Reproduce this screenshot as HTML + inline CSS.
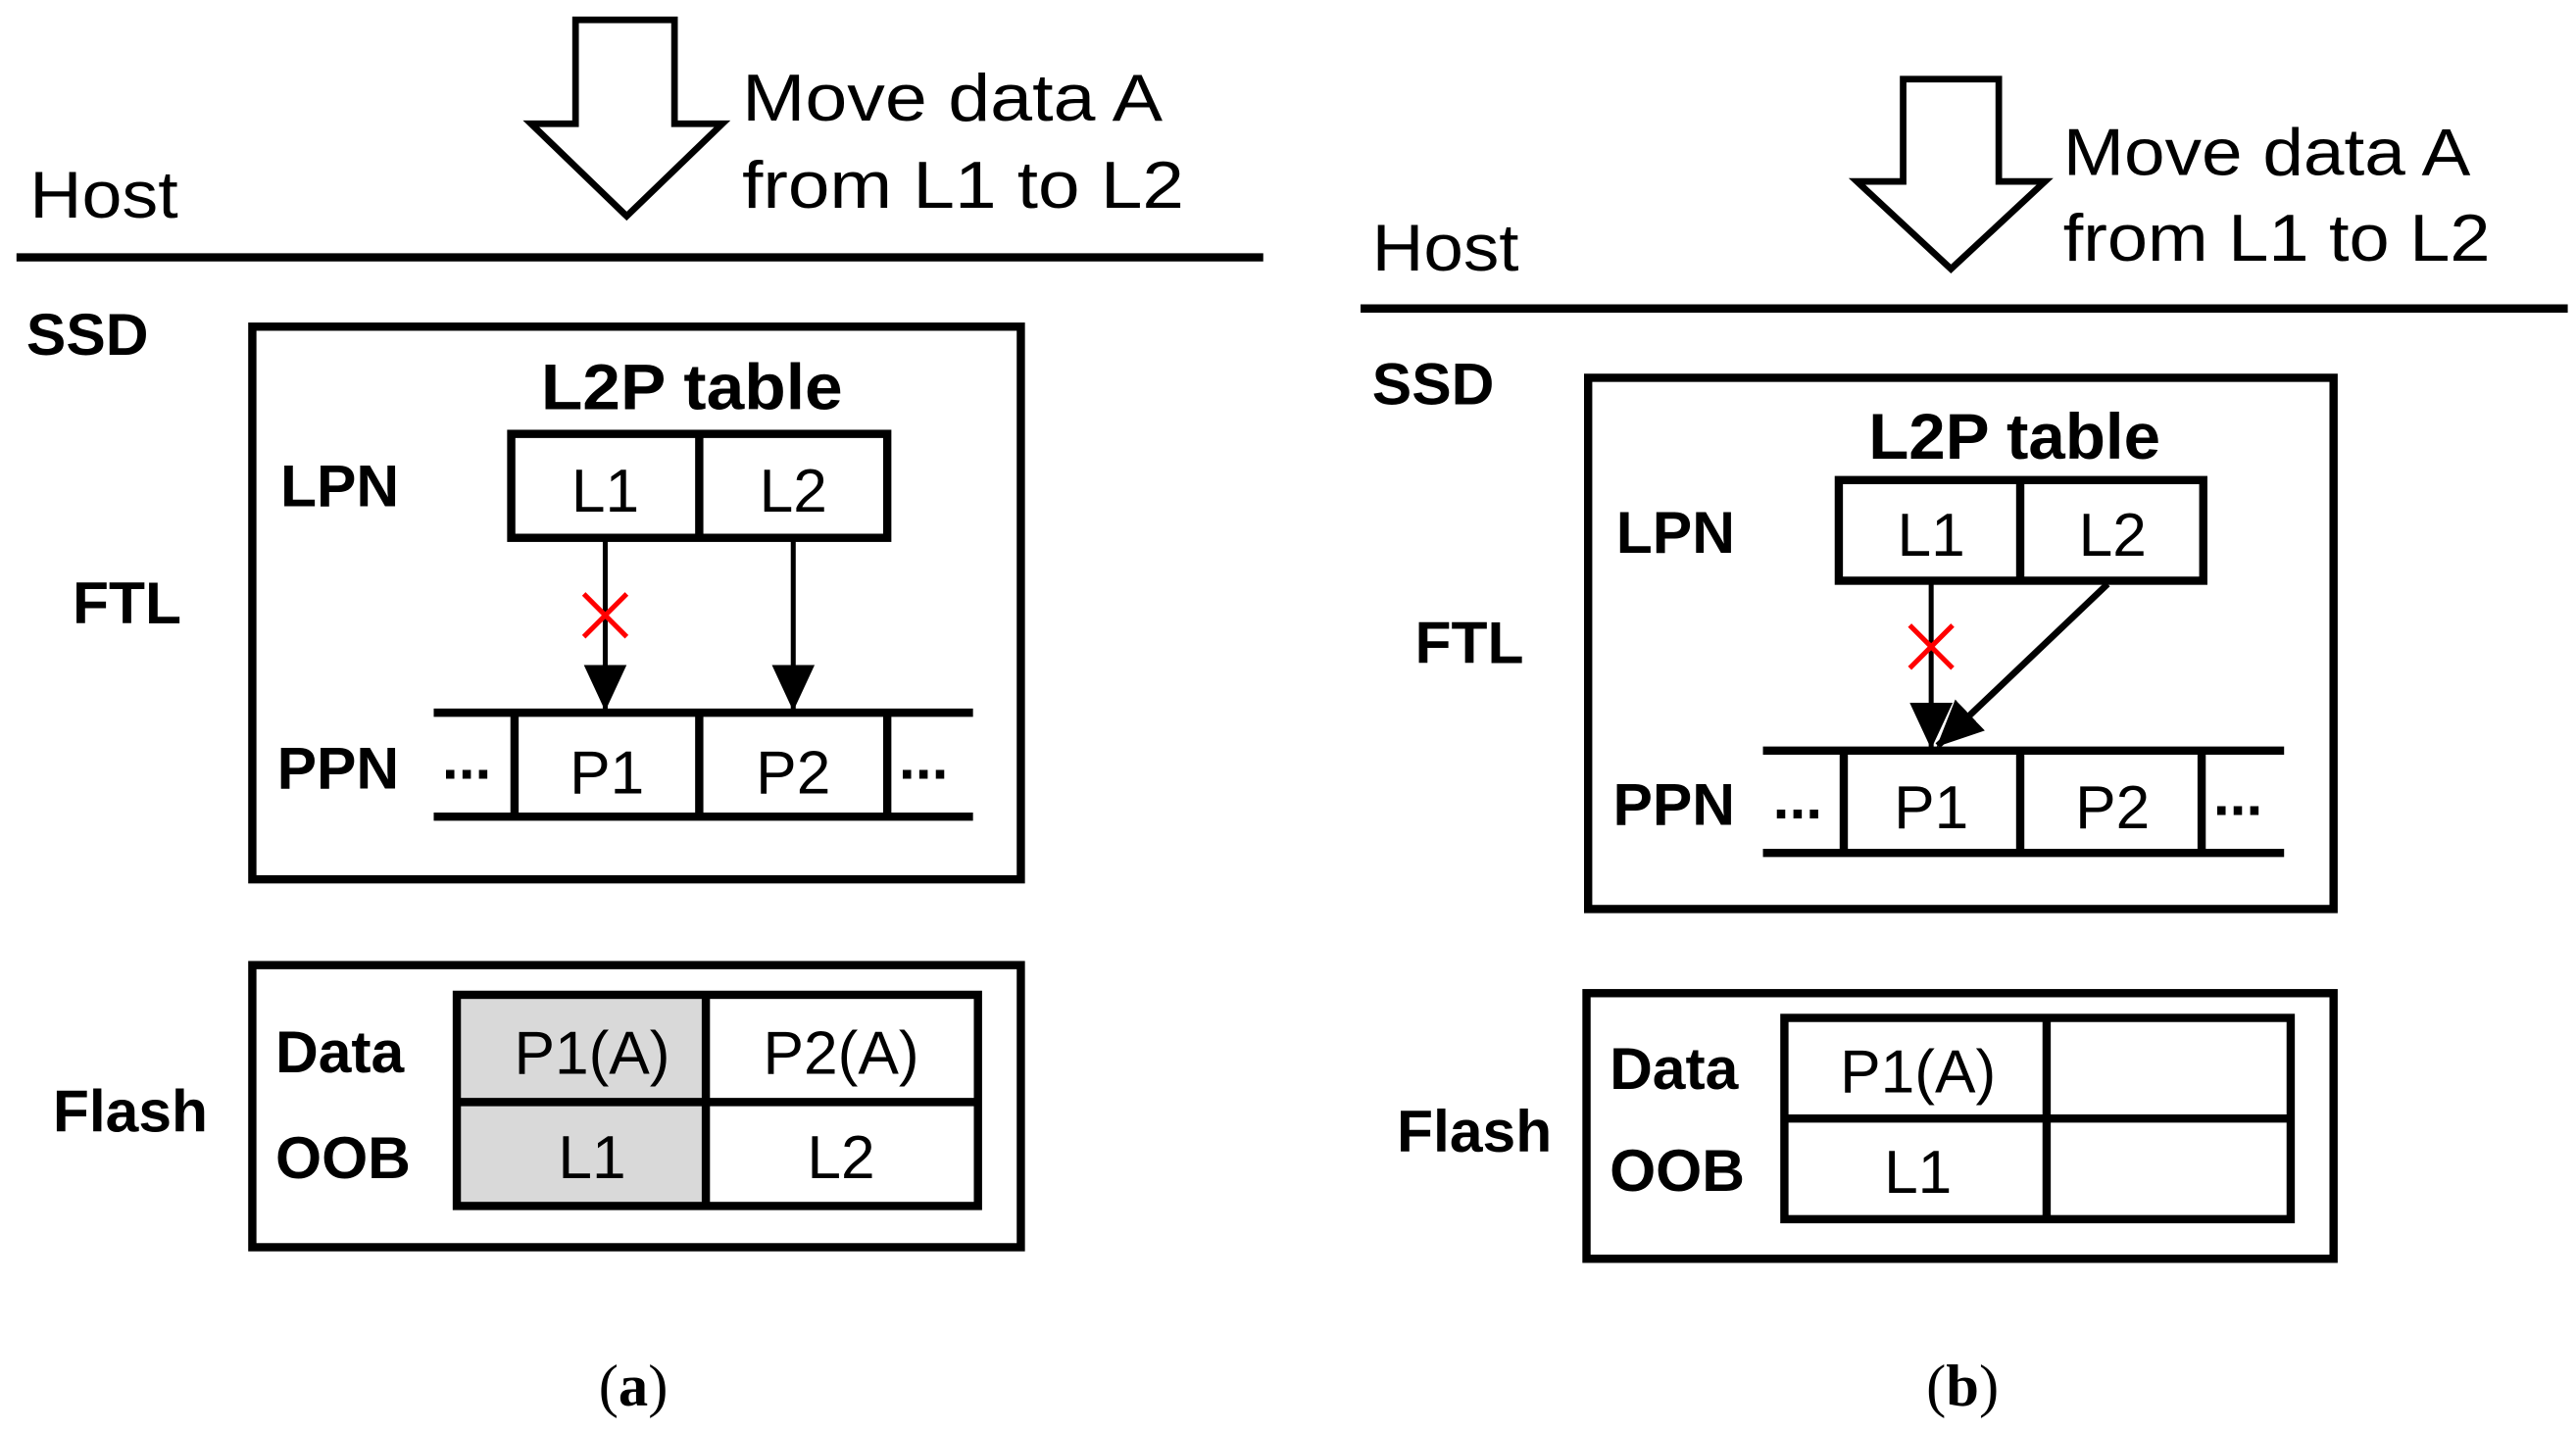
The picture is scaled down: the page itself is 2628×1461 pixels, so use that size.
<!DOCTYPE html>
<html><head><style>html,body{margin:0;padding:0;background:#fff}svg{display:block}</style></head><body>
<svg width="2628" height="1461" viewBox="0 0 1562 868" preserveAspectRatio="none" xmlns="http://www.w3.org/2000/svg" font-family="Liberation Sans, sans-serif">
<defs>
<marker id="ah2" markerWidth="28" markerHeight="26" refX="27" refY="13" orient="auto" markerUnits="userSpaceOnUse"><path d="M0,0 L28,13 L0,26 z" fill="#000"/></marker></defs>
<g stroke="#000" stroke-width="5" fill="none">
<path d="M349,12 L409,12 L409,75 L438,75 L380,131 L322,75 L349,75 Z" stroke-width="4"/>
<line x1="10" y1="156" x2="766" y2="156"/>
<rect x="153" y="198" width="466" height="335"/>
<rect x="310" y="263" width="228" height="63"/><line x1="424" y1="263" x2="424" y2="326"/>
<line x1="263" y1="432" x2="590" y2="432"/><line x1="263" y1="495" x2="590" y2="495"/>
<line x1="312" y1="432" x2="312" y2="495"/><line x1="424" y1="432" x2="424" y2="495"/><line x1="538" y1="432" x2="538" y2="495"/>
<line x1="367" y1="326" x2="367" y2="430" stroke-width="3" marker-end="url(#ah2)"/>
<line x1="481" y1="326" x2="481" y2="430" stroke-width="3" marker-end="url(#ah2)"/>
<rect x="153" y="585" width="466" height="171"/>
<rect x="277" y="603" width="151" height="128" fill="#d9d9d9" stroke="none"/>
<rect x="277" y="603" width="316" height="128"/><line x1="428" y1="603" x2="428" y2="731"/><line x1="277" y1="668" x2="593" y2="668"/>
<path d="M1154,48 L1212,48 L1212,110 L1240,110 L1183,163 L1126,110 L1154,110 Z" stroke-width="4"/>
<line x1="825" y1="187" x2="1557" y2="187"/>
<rect x="963" y="229" width="452" height="322"/>
<rect x="1115" y="291" width="221" height="61"/><line x1="1225" y1="291" x2="1225" y2="352"/>
<line x1="1069" y1="455" x2="1385" y2="455"/><line x1="1069" y1="517" x2="1385" y2="517"/>
<line x1="1118" y1="455" x2="1118" y2="517"/><line x1="1225" y1="455" x2="1225" y2="517"/><line x1="1335" y1="455" x2="1335" y2="517"/>
<line x1="1171" y1="352" x2="1171" y2="453" stroke-width="3" marker-end="url(#ah2)"/>
<line x1="1278" y1="354" x2="1175" y2="452" stroke-width="4" marker-end="url(#ah2)"/>
<rect x="962" y="602" width="453" height="161"/>
<rect x="1082" y="617" width="307" height="122"/><line x1="1241" y1="617" x2="1241" y2="739"/><line x1="1082" y1="678" x2="1389" y2="678"/>
</g>
<g stroke="#f00" stroke-width="3">
<line x1="354" y1="360" x2="380" y2="386"/><line x1="380" y1="360" x2="354" y2="386"/>
<line x1="1158" y1="379" x2="1184" y2="405"/><line x1="1184" y1="379" x2="1158" y2="405"/>
</g>
<g font-size="40" fill="#000" lengthAdjust="spacingAndGlyphs">
<text x="450" y="73" textLength="255" lengthAdjust="spacingAndGlyphs">Move data A</text><text x="450" y="126" textLength="268" lengthAdjust="spacingAndGlyphs">from L1 to L2</text>
<text x="18" y="132" textLength="90" lengthAdjust="spacingAndGlyphs">Host</text>
<text x="1251" y="106" textLength="247" lengthAdjust="spacingAndGlyphs">Move data A</text><text x="1251" y="158" textLength="259" lengthAdjust="spacingAndGlyphs">from L1 to L2</text>
<text x="832" y="164" textLength="89" lengthAdjust="spacingAndGlyphs">Host</text>
</g>
<g font-size="36" font-weight="bold">
<text x="16" y="215">SSD</text><text x="328" y="248" font-size="39" textLength="183" lengthAdjust="spacingAndGlyphs">L2P table</text>
<text x="170" y="307">LPN</text><text x="44" y="378">FTL</text><text x="168" y="478">PPN</text>
<text x="167" y="650">Data</text><text x="167" y="714">OOB</text><text x="32" y="686">Flash</text>
<text x="832" y="245">SSD</text><text x="1133" y="278" font-size="39" textLength="177" lengthAdjust="spacingAndGlyphs">L2P table</text>
<text x="980" y="335">LPN</text><text x="858" y="402">FTL</text><text x="978" y="500">PPN</text>
<text x="976" y="660">Data</text><text x="976" y="722">OOB</text><text x="847" y="698">Flash</text>
<text x="268" y="472">...</text><text x="545" y="472">...</text>
<text x="1075" y="496">...</text><text x="1342" y="494">...</text>
</g>
<g font-size="37" text-anchor="middle">
<text x="367" y="310">L1</text><text x="481" y="310">L2</text>
<text x="368" y="481">P1</text><text x="481" y="481">P2</text>
<text x="359" y="651">P1(A)</text><text x="510" y="651">P2(A)</text>
<text x="359" y="714">L1</text><text x="510" y="714">L2</text>
<text x="1171" y="337">L1</text><text x="1281" y="337">L2</text>
<text x="1171" y="502">P1</text><text x="1281" y="502">P2</text>
<text x="1163" y="662">P1(A)</text><text x="1163" y="723">L1</text>
</g>
<g font-family="Liberation Serif, serif" font-size="36" text-anchor="middle">
<text x="384" y="852">(<tspan font-weight="bold">a</tspan>)</text>
<text x="1190" y="852">(<tspan font-weight="bold">b</tspan>)</text>
</g>
</svg>
</body></html>
